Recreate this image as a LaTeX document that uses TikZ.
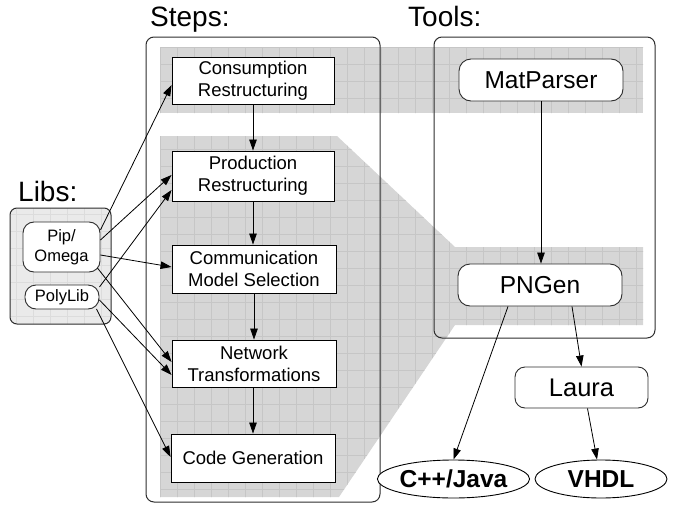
\documentclass[tikz,border=0pt]{standalone}
\usepackage{fontspec}
\setmainfont{Liberation Sans}
\usetikzlibrary{arrows.meta,shapes.geometric}
\definecolor{bandgray}{RGB}{214,214,214}
\definecolor{bandgrid}{RGB}{198,198,198}
\definecolor{libfill}{RGB}{234,234,234}
\definecolor{libgrid}{RGB}{220,220,220}
\definecolor{frame}{RGB}{45,45,45}
\begin{document}
\begin{tikzpicture}[x=1pt,y=-1pt,
  title/.style={anchor=base west,inner sep=0pt,font=\fontsize{28}{30}\selectfont},
  stepbox/.style={draw,fill=white,line width=0.9pt,minimum width=162pt,
    align=center,inner sep=0pt,font=\fontsize{18.5}{22}\selectfont},
  toolbox/.style={draw=frame,fill=white,line width=0.9pt,rounded corners=12pt,
    inner sep=0pt,font=\fontsize{24.5}{28}\selectfont},
  libbox/.style={draw=frame,fill=white,line width=0.9pt,rounded corners=11pt,
    align=center,inner sep=0pt,font=\fontsize{16.5}{20}\selectfont},
  outputs/.style={ellipse,draw,fill=white,line width=0.9pt,inner sep=0pt,
    minimum height=38pt,font=\fontsize{24.5}{28}\selectfont\bfseries},
  frm/.style={draw=frame,line width=1pt,rounded corners=8pt},
  flow/.style={line width=0.8pt,-{Triangle[length=11pt,width=7.5pt]}}]
\useasboundingbox (0,0) rectangle (683,506);

% shaded areas behind the steps and tools
\fill[bandgray] (160,47) rectangle (643,113);
\fill[bandgray] (160,136) -- (337,136) -- (455,247) -- (643,247) -- (643,325)
  -- (455,325) -- (339,497) -- (160,497) -- cycle;
\begin{scope}
  \clip (160,47) rectangle (643,113)
    (160,136) -- (337,136) -- (455,247) -- (643,247) -- (643,325)
    -- (455,325) -- (339,497) -- (160,497) -- cycle;
  \foreach \gx in {160,177,...,645} \draw[bandgrid,line width=0.6pt] (\gx,40) -- (\gx,500);
  \foreach \gy in {47,64,...,500} \draw[bandgrid,line width=0.6pt] (150,\gy) -- (650,\gy);
\end{scope}

% libs panel
\fill[libfill,rounded corners=7pt] (10,208) rectangle (111,324);
\begin{scope}
  \clip[rounded corners=7pt] (10,208) rectangle (111,324);
  \foreach \gx in {16,33,...,111} \draw[libgrid,line width=0.5pt] (\gx,208) -- (\gx,324);
  \foreach \gy in {214,231,...,324} \draw[libgrid,line width=0.5pt] (10,\gy) -- (111,\gy);
\end{scope}
\draw[draw=frame,line width=1pt,rounded corners=7pt] (10,208) rectangle (111,324);

% frames
\draw[frm] (146,37) rectangle (380,502);
\draw[frm] (434,37) rectangle (655,338);

% titles
\node[title] (tsteps) at (150,27) {Steps:};
\node[title] (ttools) at (408,27) {Tools:};
\node[title] (tlibs) at (18,201) {Libs:};

% steps
\node[stepbox,minimum height=47pt] (cons) at (253,80.5) {Consumption\\Restructuring};
\node[stepbox,minimum height=50pt] (prod) at (253,176) {Production\\Restructuring};
\node[stepbox,minimum height=48pt,minimum width=164pt] (comm) at (254,269) {Communication\\Model Selection};
\node[stepbox,minimum height=47pt,minimum width=164pt] (net) at (254,363.5) {Network\\Transformations};
\node[stepbox,minimum height=48pt,minimum width=164pt] (code) at (253,458) {Code Generation};

% tools
\node[toolbox,minimum width=164pt,minimum height=42pt] (matp) at (541,80) {MatParser};
\node[toolbox,minimum width=164pt,minimum height=42pt] (pngen) at (540,285) {PNGen};
\node[toolbox,minimum width=133pt,minimum height=41pt,rounded corners=10pt,
  font=\fontsize{25.5}{28}\selectfont] (laura) at (581.5,387.5) {Laura};
\node[outputs,minimum width=137pt] (cpp) at (453.5,479) {C++/Java};
\node[outputs,minimum width=132pt] (vhdl) at (601,479) {VHDL};

% libs
\node[libbox,minimum width=77pt,minimum height=50pt] (pip) at (61.5,247) {Pip/\\Omega};
\node[libbox,minimum width=74pt,minimum height=24pt] (poly) at (62,297) {PolyLib};

% step order
\draw[flow] (cons.south) -- (prod.north);
\draw[flow] (prod.south) -- (prod.south |- comm.north);
\draw[flow] (comm.south) -- (comm.south |- net.north);
\draw[flow] (net.south) -- (net.south -| code.north) -- (code.north);

% tool flow
\draw[flow] (matp.south) -- (matp.south |- pngen.north);
\draw[flow] ([xshift=-32pt]pngen.south) -- (cpp.north);
\draw[flow] ([xshift=32pt]pngen.south) -- (laura.north);
\draw[flow] ([xshift=6pt]laura.south) -- ([xshift=-4pt]vhdl.north);

% library usage
\draw[flow] ([yshift=17pt]pip.east) -- ([yshift=-4.5pt]cons.west);
\draw[flow] ([yshift=7pt]pip.east) -- ([yshift=1pt]prod.west);
\draw[flow] ([yshift=10pt]poly.east) -- ([yshift=-14pt]prod.west);
\draw[flow] ([yshift=-8pt]pip.east) -- ([yshift=2pt]comm.west);
\draw[flow] ([shift={(-3pt,-21pt)}]pip.east) -- ([yshift=1.5pt]net.west);
\draw[flow] ([yshift=-3pt]poly.east) -- ([yshift=-11.5pt]net.west);
\draw[flow] ([shift={(-3pt,-12pt)}]poly.east) -- ([yshift=1pt]code.west);
\end{tikzpicture}
\end{document}
